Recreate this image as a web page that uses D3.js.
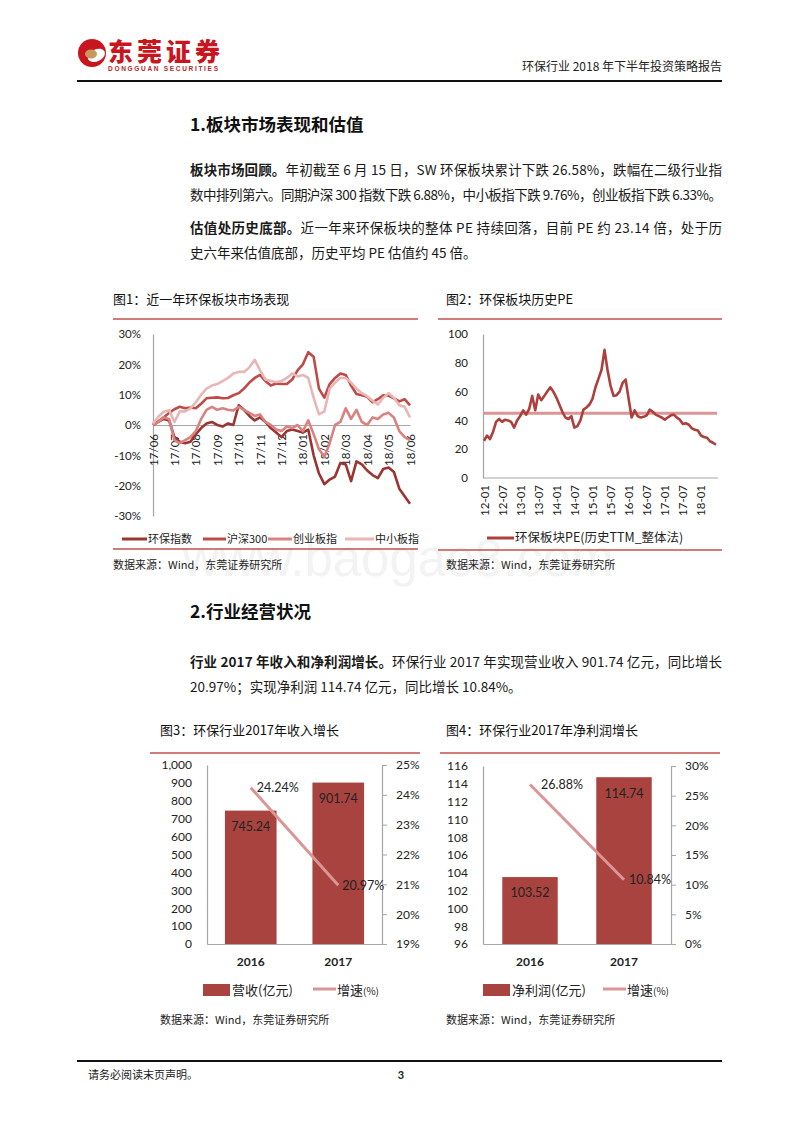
<!DOCTYPE html>
<html><head><meta charset="utf-8">
<script src="https://cdn.jsdelivr.net/npm/d3@7"></script>
<style>body{margin:0;background:#fff}svg{display:block}</style>
</head><body>
<svg id="page" width="800" height="1132"></svg>
<script>
// ---------------- DATA ----------------
// Figure 1: weekly samples, 17/06 .. 18/06 (cumulative change, %)
const perfMonths = ["17/06","17/07","17/08","17/09","17/10","17/11","17/12","18/01","18/02","18/03","18/04","18/05","18/06"];
const perfSeriesNames = ["环保指数","沪深300","创业板指","中小板指"];
const envIndex = [0,1,2,1.5,-4,-5.5,-6,-5.5,-3,-1,0.5,1,0,-0.5,0.5,0,6.5,5,3,1.5,2.5,1,-1,-2.5,-4,-2,-1.5,-2,-2.5,-1.5,-10,-16,-19.5,-18,-17,-12.5,-13,-18.5,-12,-13,-15,-16.5,-17.5,-14.5,-14,-15.5,-21,-23.5,-26];
const hs300 = [0,1.2,2.5,4,5.2,6,5.5,5.8,5.5,7,8.8,9,9.1,8.8,8.9,9.8,10.5,12,14,15.5,16.5,14.5,13,13.7,13.5,13.5,15,18,20,24,22.5,12,9,13.5,15.5,17,16.5,13,10.2,9.8,9.3,7.5,8.5,9.8,9.7,8.8,7.8,8.5,6.5];
const chinext = [0,1,2.5,2,-5,-6,-5,-4,-2,2,5,6,5,5.5,5,4.8,6,5,4,3,3.5,1,0,-1.5,-2,-0.5,-1,0,-2,1.5,-3,-8,-10.5,-6,0,1,5.5,2,5,1,0,2.5,2,3.5,4,2.5,-2,-4,-5];
const smeIndex = [0.5,2.7,4.4,4.9,1,4.5,4.5,5.5,7.5,10,12,13,13.5,14.5,15.5,17,17.5,17.5,19,21.5,18,15,14.5,14.2,14.5,15.5,17,16,16.5,15.5,9,3.5,4.5,12,14,15.5,15.5,14,12,10.5,9.5,8,6.8,9,10.5,9,6.5,6,2.5];
const perfTicks = [-30,-20,-10,0,10,20,30];

// Figure 2: monthly PE, 2012-01 .. 2018-06
const peLabels = ["12-01","12-07","13-01","13-07","14-01","14-07","15-01","15-07","16-01","16-07","17-01","17-07","18-01"];
const peValues = [25.7,29.5,27,32,39,41,39,40.5,40,39,35,40,43,47,44,48,57,47,58,54,57,60,63,60,56,51,46,42,41,43,35,36,40,47.5,49,51,55,63,69,75,89,75,64,57,57.5,60,66,68.4,55,42,47,43,42,42.5,43.5,47.5,46,44,43,42,40.5,42,43.5,44,42,40.5,37.5,38,37,34.5,33.5,33,29.5,28.5,28,25.5,24.5,23.1];
const peAverage = 45;
const peTicks = [0,20,40,60,80,100];

// Figure 3
const years = ["2016","2017"];
const revenue = [745.24, 901.74];
const revenueGrowth = [24.24, 20.97];
const revTicks = [0,100,200,300,400,500,600,700,800,900,1000];
const revGrowthTicks = [19,20,21,22,23,24,25];
// Figure 4
const profit = [103.52, 114.74];
const profitGrowth = [26.88, 10.84];
const profTicks = [96,98,100,102,104,106,108,110,112,114,116];
const profGrowthTicks = [0,5,10,15,20,25,30];

// ---------------- STYLE ----------------
const CJK = "'Noto Sans CJK SC', sans-serif";
const LAT = "Lato, 'Noto Sans CJK SC', sans-serif";
const RULE = "#c0504d";
const AXIS = "#a6a6a6";
const perfColors = ["#9b3532","#bf4a47","#d9827f","#e8b7b5"];
const svg = d3.select("#page");

// watermark
svg.append("text").attr("x",398).attr("y",576).attr("text-anchor","middle")
  .attr("font-family","'Liberation Sans', Arial, sans-serif").attr("font-size",51)
  .attr("fill","#f3f3f3").text("www.baogao8.com");

// ---------------- HEADER ----------------
const logo = svg.append("g").attr("transform","translate(92,53)");
logo.append("circle").attr("r",14).attr("fill","#c9151e");
logo.append("ellipse").attr("cx",3).attr("cy",4).attr("rx",9).attr("ry",6).attr("transform","rotate(-25)").attr("fill","#fff");
logo.append("ellipse").attr("cx",-1).attr("cy",1).attr("rx",6).attr("ry",4.5).attr("fill","#c49a5e");
svg.append("text").attr("x",108).attr("y",61).attr("font-family",CJK).attr("font-weight",900)
  .attr("font-size",25).attr("fill","#c9151e").attr("textLength",112).text("东莞证券");
svg.append("text").attr("x",108).attr("y",70.5).attr("font-family","'Liberation Sans', sans-serif").attr("font-weight",700)
  .attr("font-size",6.5).attr("fill","#b0282a").attr("textLength",110).text("DONGGUAN SECURITIES");
svg.append("text").attr("x",722).attr("y",71).attr("text-anchor","end").attr("font-family",CJK)
  .attr("font-size",12).attr("fill","#222").text("环保行业 2018 年下半年投资策略报告");
svg.append("line").attr("x1",77).attr("x2",722).attr("y1",81).attr("y2",81).attr("stroke","#111").attr("stroke-width",2);

// ---------------- BODY TEXT ----------------
function heading(y, t){
  svg.append("text").attr("x",190).attr("y",y).attr("font-family",CJK).attr("font-weight",700)
    .attr("font-size",17.5).attr("fill","#111").text(t);
}
function para(y, bold, rest, full){
  const t = svg.append("text").attr("x",190).attr("y",y).attr("font-family",CJK)
    .attr("font-size",13.5).attr("fill","#1a1a1a");
  if (full) t.attr("textLength",532).attr("lengthAdjust","spacing");
  if (bold) t.append("tspan").attr("font-weight",700).text(bold);
  t.append("tspan").text(rest);
}
heading(131,"1.板块市场表现和估值");
para(175,"板块市场回顾。","年初截至 6 月 15 日，SW 环保板块累计下跌 26.58%，跌幅在二级行业指",true);
para(200,null,"数中排列第六。同期沪深 300 指数下跌 6.88%，中小板指下跌 9.76%，创业板指下跌 6.33%。",true);
para(233,"估值处历史底部。","近一年来环保板块的整体 PE 持续回落，目前 PE 约 23.14 倍，处于历",true);
para(258,null,"史六年来估值底部，历史平均 PE 估值约 45 倍。",false);
heading(618,"2.行业经营状况");
para(667,"行业 2017 年收入和净利润增长。","环保行业 2017 年实现营业收入 901.74 亿元，同比增长",true);
para(692,null,"20.97%；实现净利润 114.74 亿元，同比增长 10.84%。",false);

function figTitle(x,y,t){
  svg.append("text").attr("x",x).attr("y",y).attr("font-family",CJK).attr("font-size",13)
    .attr("fill","#111").text(t);
}
function rule(x1,x2,y){
  svg.append("line").attr("x1",x1).attr("x2",x2).attr("y1",y).attr("y2",y).attr("stroke",RULE).attr("stroke-width",1.5);
}
function source(x,y){
  svg.append("text").attr("x",x).attr("y",y).attr("font-family",CJK).attr("font-size",11)
    .attr("fill","#222").text("数据来源：Wind，东莞证券研究所");
}
figTitle(113,304,"图1：近一年环保板块市场表现");
figTitle(446,304,"图2：环保板块历史PE");
rule(113,418,319); rule(438,722,319);
rule(113,418,549); rule(438,722,550);
source(113,569); source(446,569);
figTitle(160,735,"图3：环保行业2017年收入增长");
figTitle(446,735,"图4：环保行业2017年净利润增长");
rule(150,420,753); rule(440,720,753);
source(160,1024); source(446,1024);

function styleAxis(g, size){
  g.selectAll("text").attr("font-family",LAT).attr("font-size",size||11.5).attr("fill","#222");
  g.select(".domain").attr("stroke",AXIS).attr("stroke-width",1.2);
  g.selectAll(".tick line").attr("stroke",AXIS);
}

// ---------------- FIGURE 1 ----------------
{
  const x = d3.scaleLinear().domain([0, envIndex.length-1]).range([153,410]);
  const y = d3.scaleLinear().domain([-30,30]).range([516,334]);
  const gy = svg.append("g").attr("transform","translate(153,0)")
    .call(d3.axisLeft(y).tickValues(perfTicks).tickSize(0).tickSizeOuter(0).tickPadding(12).tickFormat(d=>d+"%"));
  styleAxis(gy, 11.5);
  const gx = svg.append("g").attr("transform",`translate(0,${y(0)})`)
    .call(d3.axisBottom(x).tickValues(d3.range(0,49,4)).tickSize(0).tickSizeOuter(0).tickFormat((d,i)=>perfMonths[i]));
  styleAxis(gx, 11.5);
  gx.selectAll("text").attr("transform","rotate(-90)").attr("x",-9).attr("y",0).attr("dy","0.35em").attr("text-anchor","end");
  const series = [envIndex, hs300, chinext, smeIndex];
  const line = d3.line().x((d,i)=>x(i)).y(d=>y(d));
  series.forEach((s,k)=>{
    svg.append("path").datum(s).attr("d",line).attr("fill","none")
      .attr("stroke",perfColors[k]).attr("stroke-width",2.6).attr("stroke-linejoin","round");
  });
  const lx = [122,203,268,345], tx=[148,227,293,375];
  perfSeriesNames.forEach((n,k)=>{
    svg.append("line").attr("x1",lx[k]).attr("x2",tx[k]-1).attr("y1",539).attr("y2",539)
      .attr("stroke",perfColors[k]).attr("stroke-width",3);
    svg.append("text").attr("x",tx[k]).attr("y",539).attr("dy","0.35em").attr("font-family",CJK)
      .attr("font-size",11).attr("fill","#222").text(n);
  });
}

// ---------------- FIGURE 2 ----------------
{
  const x = d3.scaleLinear().domain([0, peValues.length-1]).range([484,716]);
  const y = d3.scaleLinear().domain([0,100]).range([478,334]);
  const gy = svg.append("g").attr("transform","translate(483,0)")
    .call(d3.axisLeft(y).tickValues(peTicks).tickSize(0).tickSizeOuter(0).tickPadding(15));
  styleAxis(gy, 11.5);
  const gx = svg.append("g").attr("transform","translate(0,478)")
    .call(d3.axisBottom(x).tickValues(d3.range(0,78,6)).tickSize(0).tickSizeOuter(0).tickFormat((d,i)=>peLabels[i]));
  gx.select(".domain").attr("d","M483,0H718");
  styleAxis(gx, 11.5);
  gx.selectAll("text").attr("transform","rotate(-90)").attr("x",-7).attr("y",0).attr("dy","0.35em").attr("text-anchor","end");
  svg.append("line").attr("x1",483).attr("x2",717).attr("y1",y(peAverage)).attr("y2",y(peAverage))
    .attr("stroke","#d99694").attr("stroke-width",3);
  svg.append("path").datum(peValues).attr("fill","none").attr("stroke","#ad403d").attr("stroke-width",2.6)
    .attr("stroke-linejoin","round").attr("d",d3.line().x((d,i)=>x(i)).y(d=>y(d)));
  svg.append("line").attr("x1",487).attr("x2",514).attr("y1",538).attr("y2",538).attr("stroke","#ad403d").attr("stroke-width",3);
  svg.append("text").attr("x",515).attr("y",538).attr("dy","0.35em").attr("font-family",CJK).attr("font-size",12.5)
    .attr("fill","#222").text("环保板块PE(历史TTM_整体法)");
}

// ---------------- FIGURES 3 & 4 ----------------
function barCombo(o){
  const x = d3.scaleBand().domain(years).range([o.x0,o.x1]).paddingInner(0.41).paddingOuter(0.205);
  const yl = d3.scaleLinear().domain(o.ld).range([944,o.top]);
  const yr = d3.scaleLinear().domain(o.rd).range([944,o.top]);
  svg.selectAll(null).data(o.bars).enter().append("rect")
    .attr("x",(d,i)=>x(years[i])).attr("width",x.bandwidth())
    .attr("y",d=>yl(d)).attr("height",d=>944-yl(d)).attr("fill","#a8433f");
  const gl = svg.append("g").attr("transform",`translate(${o.x0},0)`)
    .call(d3.axisLeft(yl).tickValues(o.lt).tickSize(0).tickSizeOuter(0).tickPadding(15).tickFormat(o.lf));
  styleAxis(gl, 12);
  const gr = svg.append("g").attr("transform",`translate(${o.x1},0)`)
    .call(d3.axisRight(yr).tickValues(o.rt).tickSize(5).tickSizeOuter(0).tickPadding(9).tickFormat(d=>d+"%"));
  styleAxis(gr, 12);
  const gx = svg.append("g").attr("transform","translate(0,944)")
    .call(d3.axisBottom(x).tickSize(0).tickSizeOuter(0).tickPadding(13));
  styleAxis(gx, 12);
  gx.selectAll("text").attr("font-weight",700);
  svg.selectAll(null).data(o.bars).enter().append("text")
    .attr("x",(d,i)=>x(years[i])+x.bandwidth()/2).attr("y",d=>yl(d)+16).attr("dy","0.35em")
    .attr("text-anchor","middle").attr("font-family",LAT).attr("font-size",12.5).attr("fill","#222")
    .text(d=>d.toFixed(2));
  const cx = (d,i)=>x(years[i])+x.bandwidth()/2;
  svg.append("path").datum(o.growth).attr("fill","none").attr("stroke","#d99694").attr("stroke-width",3)
    .attr("d",d3.line().x(cx).y(d=>yr(d)));
  svg.selectAll(null).data(o.growth).enter().append("text")
    .attr("x",(d,i)=>cx(d,i)+o.gl[i]).attr("y",d=>yr(d)).attr("dy","0.35em")
    .attr("font-family",LAT).attr("font-size",12.5).attr("fill","#222").text(d=>d.toFixed(2)+"%");
  // legend
  svg.append("rect").attr("x",o.lg).attr("y",984).attr("width",27).attr("height",12).attr("fill","#a8433f");
  svg.append("text").attr("x",o.lg+29).attr("y",990).attr("dy","0.35em").attr("font-family",CJK)
    .attr("font-size",13).attr("fill","#222").text(o.name);
  svg.append("line").attr("x1",o.lg2).attr("x2",o.lg2+23).attr("y1",989).attr("y2",989).attr("stroke","#d99694").attr("stroke-width",3);
  const t = svg.append("text").attr("x",o.lg2+24).attr("y",990).attr("dy","0.35em").attr("font-family",CJK)
    .attr("font-size",13).attr("fill","#222");
  t.append("tspan").text("增速");
  t.append("tspan").attr("font-size",10).text("(%)");
}
barCombo({x0:207,x1:382,top:765,ld:[0,1000],rd:[19,25],lt:revTicks,rt:revGrowthTicks,
  lf:d3.format(","),bars:revenue,growth:revenueGrowth,gl:[6,4],lg:203,lg2:313,name:"营收(亿元)"});
barCombo({x0:483,x1:671,top:766,ld:[96,116],rd:[0,30],lt:profTicks,rt:profGrowthTicks,
  lf:d=>d,bars:profit,growth:profitGrowth,gl:[11,5],lg:483,lg2:603,name:"净利润(亿元)"});

// ---------------- FOOTER ----------------
svg.append("line").attr("x1",77).attr("x2",722).attr("y1",1061).attr("y2",1061).attr("stroke","#111").attr("stroke-width",2);
svg.append("text").attr("x",88).attr("y",1079).attr("font-family",CJK).attr("font-size",11).attr("fill","#222").text("请务必阅读末页声明。");
svg.append("text").attr("x",401).attr("y",1079).attr("text-anchor","middle").attr("font-family",LAT).attr("font-weight",700)
  .attr("font-size",11).attr("fill","#222").text("3");
</script>
</body></html>
